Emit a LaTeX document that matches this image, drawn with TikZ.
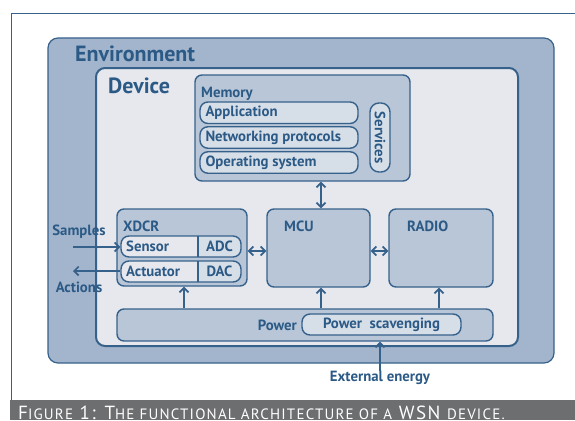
\documentclass[tikz,border=0pt]{standalone}
\usepackage{fontspec}
\setmainfont{PT Sans}
\newfontfamily\capfont[LetterSpace=8]{PT Sans}
\usetikzlibrary{arrows.meta}

\definecolor{ink}{HTML}{2C5A86}
\definecolor{edge}{HTML}{36618B}
\definecolor{envfill}{HTML}{A3B5CC}
\definecolor{devfill}{HTML}{E6E8EE}
\definecolor{boxfill}{HTML}{B8C6D7}
\definecolor{pillfill}{HTML}{D6DEE8}
\definecolor{capbar}{HTML}{6D6E70}

\newcommand\capsm[1]{{\fontsize{15}{15}\selectfont #1}}

\tikzset{
  box/.style={draw=edge, line width=1.4pt, fill=boxfill, rounded corners=7pt},
  pill/.style={draw=edge, line width=1.4pt, fill=pillfill, rounded corners=8pt},
  lbl/.style={text=ink, font=\bfseries\fontsize{14.8}{16}\selectfont, inner sep=0pt},
  big/.style={text=ink, font=\bfseries\fontsize{22}{24}\selectfont, inner sep=0pt},
  link/.style={draw=edge, line width=1.7pt, -{Straight Barb[length=4.5pt,width=9pt,line width=1.7pt]}},
  dlink/.style={draw=edge, line width=1.7pt, {Straight Barb[length=4.5pt,width=9pt,line width=1.7pt]}-{Straight Barb[length=4.5pt,width=9pt,line width=1.7pt]}},
}

\begin{document}
\begin{tikzpicture}[x=1pt,y=-1pt]
\useasboundingbox (0,0) rectangle (575,420);

% frame and caption bar
\draw[edge, line width=1pt] (11,400) -- (11,13.5) -- (575,13.5);
\fill[capbar] (10,400) rectangle (575,420);
\node[anchor=base west, inner sep=0pt, text=white, font=\capfont\fontsize{19}{20}\selectfont]
  (cap) at (18,419.5)
  {F\capsm{IGURE} 1: T\capsm{HE FUNCTIONAL ARCHITECTURE OF A} WSN \capsm{DEVICE.}};

% environment and device
\node[draw=edge, line width=1.2pt, fill=envfill, rounded corners=10pt,
      minimum width=506pt, minimum height=325pt] (env) at (301,200.5) {};
\node[big, anchor=base west] (envlbl) at (75,61) {Environment};
\node[draw=edge, line width=2pt, fill=devfill, rounded corners=9pt,
      minimum width=422pt, minimum height=278pt] (dev) at (307,207) {};
\node[big, anchor=base west] (devlbl) at (108,93) {Device};

% memory block
\node[box, minimum width=215pt, minimum height=106pt] (mem) at (302.5,128) {};
\node[lbl, anchor=base west] (memlbl) at (201,97) {Memory};
\node[pill, minimum width=158pt, minimum height=21.5pt] (app) at (279,112.75) {};
\node[lbl, anchor=west] at ([xshift=6pt]app.west) {Application};
\node[pill, minimum width=158pt, minimum height=21.5pt] (net) at (279,137.5) {};
\node[lbl, anchor=west] at ([xshift=6pt]net.west) {Networking protocols};
\node[pill, minimum width=158pt, minimum height=21.5pt] (os) at (279,162.5) {};
\node[lbl, anchor=west] at ([xshift=6pt]os.west) {Operating system};
\node[pill, rounded corners=9pt, minimum width=20pt, minimum height=69pt] (svc) at (380,137.5) {};
\node[lbl, rotate=-90] at (svc) {Services};

% transducer block
\node[box, minimum width=130pt, minimum height=77pt] (xdcr) at (182,247.5) {};
\node[lbl, anchor=base west] (xdcrlbl) at (123,231) {XDCR};
\foreach \nm/\y/\la/\lb in {sens/246.5/Sensor/ADC, act/271.5/Actuator/DAC}{
  \begin{scope}
    \clip[rounded corners=8pt] (121,\y-10.5) rectangle (241,\y+10.5);
    \fill[devfill] (121,\y-10.5) rectangle (198,\y+10.5);
    \fill[pillfill] (198,\y-10.5) rectangle (241,\y+10.5);
  \end{scope}
  \node[draw=edge, line width=1.4pt, rounded corners=8pt,
        minimum width=120pt, minimum height=21pt] (\nm) at (181,\y) {};
  \draw[edge, line width=1.2pt] (198,\y-10.5) -- (198,\y+10.5);
  \node[lbl, anchor=west] at (126,\y) {\la};
  \node[lbl] at (219.5,\y) {\lb};
}

% processor and radio
\node[box, minimum width=103pt, minimum height=78pt] (mcu) at (318.5,248) {};
\node[lbl, anchor=base west] (mculbl) at (284,231) {MCU};
\node[box, minimum width=104pt, minimum height=78pt] (radio) at (441,248) {};
\node[lbl, anchor=base west] (radiolbl) at (407,231) {RADIO};

% power block
\node[box, minimum width=376pt, minimum height=32pt] (pwr) at (305,325) {};
\node[lbl, anchor=east] (pwrlbl) at (297,325) {Power};
\node[pill, minimum width=159pt, minimum height=21pt] (scav) at (381.5,324.5) {};
\node[lbl] at (scav) {Power\ \ scavenging};

% external labels
\node[lbl] (smp) at (79,232) {Samples};
\node[lbl] (actn) at (79,287) {Actions};
\node[lbl] (ext) at (380,378) {External energy};
\coordinate (sin) at (73,247);
\coordinate (aout) at (73,271);

% connectors
\draw[dlink] (mem.south -| 321,0) -- (mcu.north -| 321,0);
\draw[dlink] (xdcr.east |- 0,251) -- (mcu.west |- 0,251);
\draw[dlink] (mcu.east |- 0,251) -- (radio.west |- 0,251);
\draw[link] (pwr.north -| 184,0) -- (xdcr.south -| 184,0);
\draw[link] (pwr.north -| 321,0) -- (mcu.south -| 321,0);
\draw[link] (pwr.north -| 439,0) -- (radio.south -| 439,0);
\draw[link] (ext.north) -- (ext.north |- pwr.south);
\draw[link] (sin) -- (sin -| sens.west);
\draw[link] (aout -| act.west) -- (aout);
\end{tikzpicture}
\end{document}
